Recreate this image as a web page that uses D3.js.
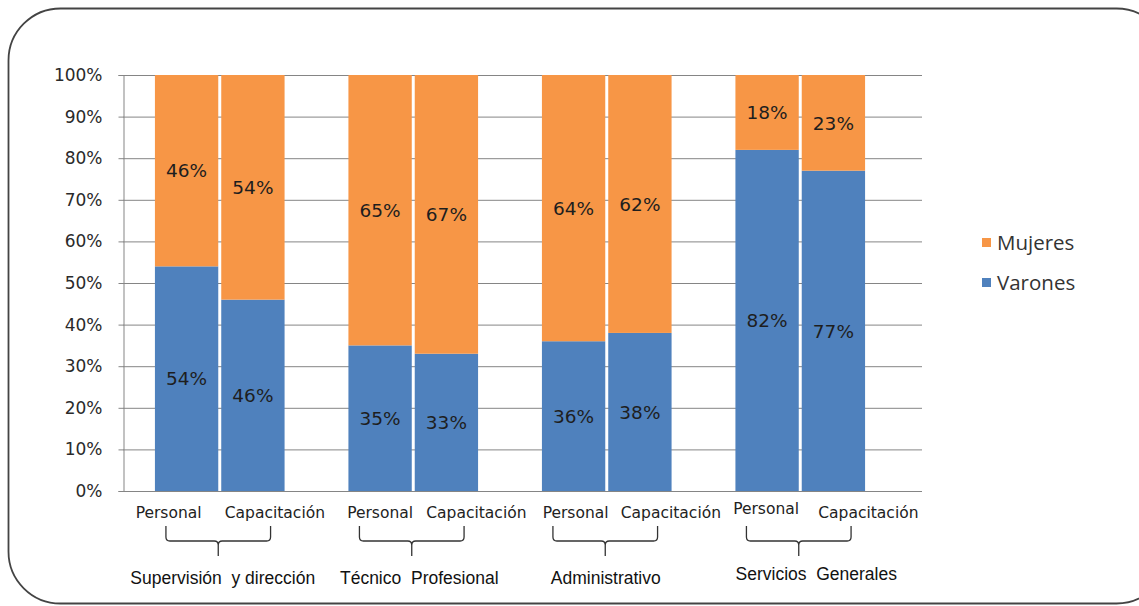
<!DOCTYPE html>
<html>
<head>
<meta charset="utf-8">
<script src="https://cdn.jsdelivr.net/npm/d3@7"></script>
<style>
  html, body { margin: 0; padding: 0; background: #fff; }
  svg { display: block; }
</style>
</head>
<body>
<svg id="chart" width="1139" height="606"></svg>
<script>
// Groups of staff and the two measures shown for each
const groups = ["Supervisión  y dirección", "Técnico  Profesional", "Administrativo", "Servicios  Generales"];
const measures = ["Personal", "Capacitación"];
const seriesNames = ["Varones", "Mujeres"];
// Percentages per group, in measure order
const varones = [[54, 46], [35, 33], [36, 38], [82, 77]];
const mujeres = [[46, 54], [65, 67], [64, 62], [18, 23]];
const yTicks = [0, 10, 20, 30, 40, 50, 60, 70, 80, 90, 100];

const colors = { Varones: "#4F81BD", Mujeres: "#F79646" };

// Label nudges (px) relative to the bar / group centre
const labelShift = {
  Personal: [-18, 0, 2, -1],
  "Capacitación": [22, 30, 31, 35],
  group: [3, 6, -1, 16],
  groupY: [0, 0, 0, -4]
};

const svg = d3.select("#chart");

// Rounded frame around the chart
svg.append("rect")
  .attr("x", 8.5).attr("y", 8.5)
  .attr("width", 1160).attr("height", 595)
  .attr("rx", 52).attr("ry", 52)
  .attr("fill", "none").attr("stroke", "#444").attr("stroke-width", 1.8);

const plot = { left: 123, right: 922, top: 75, bottom: 491 };

const y = d3.scaleLinear().domain([0, 100]).range([plot.bottom, plot.top]);
const x0 = d3.scaleBand().domain(groups).range([123, 897]).paddingInner(0.33).paddingOuter(0.165);
const x1 = d3.scaleBand().domain(measures).range([0, x0.bandwidth()]).paddingInner(0.045);

// Gridlines
svg.append("g").selectAll("line").data(yTicks).join("line")
  .attr("x1", plot.left).attr("x2", plot.right)
  .attr("y1", d => y(d) + 0.5).attr("y2", d => y(d) + 0.5)
  .attr("stroke", "#858585").attr("stroke-width", 1);

// Y axis
const yAxis = svg.append("g")
  .attr("transform", `translate(${plot.left + 0.5},0)`)
  .call(d3.axisLeft(y).tickValues(yTicks).tickFormat(d => d + "%").tickSize(5).tickPadding(16));
yAxis.select(".domain").attr("stroke", "#858585");
yAxis.selectAll(".tick line").attr("stroke", "#858585");
yAxis.selectAll(".tick text")
  .attr("font-family", "DejaVu Sans, Verdana, sans-serif")
  .attr("font-size", 17).attr("fill", "#2a2a2a");

// Stacked data
const rows = [];
groups.forEach((g, gi) => {
  measures.forEach((m, mi) => {
    rows.push({ group: g, gi, measure: m, Varones: varones[gi][mi], Mujeres: mujeres[gi][mi] });
  });
});
const stacked = d3.stack().keys(seriesNames)(rows);

const bars = svg.append("g");
stacked.forEach(layer => {
  bars.append("g").selectAll("rect").data(layer).join("rect")
    .attr("x", d => x0(d.data.group) + x1(d.data.measure))
    .attr("width", x1.bandwidth())
    .attr("y", d => y(d[1]))
    .attr("height", d => y(d[0]) - y(d[1]))
    .attr("fill", colors[layer.key]);
});

// Value labels centred in each segment
stacked.forEach(layer => {
  bars.append("g").selectAll("text").data(layer).join("text")
    .attr("x", d => x0(d.data.group) + x1(d.data.measure) + x1.bandwidth() / 2)
    .attr("y", d => (y(d[0]) + y(d[1])) / 2)
    .attr("dy", "0.36em")
    .attr("text-anchor", "middle")
    .attr("font-family", "DejaVu Sans, Verdana, sans-serif")
    .attr("font-size", 18.5).attr("fill", "#1e1e1e")
    .text(d => (d[1] - d[0]) + "%");
});

// Category labels under the bars
const cats = svg.append("g");
rows.forEach(r => {
  cats.append("text")
    .attr("x", x0(r.group) + x1(r.measure) + x1.bandwidth() / 2 + labelShift[r.measure][r.gi])
    .attr("y", r.gi === 3 && r.measure === "Personal" ? 514 : 518)
    .attr("text-anchor", "middle")
    .attr("font-family", "DejaVu Sans, Verdana, sans-serif")
    .attr("font-size", 15.5).attr("fill", "#222")
    .text(r.measure);
});

// Braces joining the two measures of each group
const braces = svg.append("g").attr("fill", "none").attr("stroke", "#333").attr("stroke-width", 1.3);
groups.forEach((g, gi) => {
  const gx = x0(g);
  const l = gx + 11, r = gx + x0.bandwidth() - 14, c = (l + r) / 2;
  braces.append("path").attr("d",
    `M${l},526 L${l},537 Q${l},541 ${l + 4},541 L${c - 4},541 Q${c},541 ${c},545 L${c},556 ` +
    `M${c},545 Q${c},541 ${c + 4},541 L${r - 4},541 Q${r},541 ${r},537 L${r},526`);
});

// Group labels
svg.append("g").selectAll("text").data(groups).join("text")
  .attr("x", (g, i) => x0(g) + x0.bandwidth() / 2 + labelShift.group[i])
  .attr("y", (g, i) => 584 + labelShift.groupY[i])
  .attr("text-anchor", "middle")
  .attr("font-family", "Liberation Sans, Arial, sans-serif")
  .attr("font-size", 17.5).attr("fill", "#111")
  .style("white-space", "pre")
  .text(g => g);

// Legend
const legend = svg.append("g").attr("transform", "translate(982,243)");
["Mujeres", "Varones"].forEach((k, i) => {
  const row = legend.append("g").attr("transform", `translate(0,${i * 40})`);
  row.append("rect").attr("x", 0).attr("y", -5).attr("width", 9).attr("height", 9).attr("fill", colors[k]);
  row.append("text").attr("x", 15).attr("y", 0).attr("dy", "0.36em")
    .attr("font-family", "Open Sans, sans-serif").attr("font-size", 20.5).attr("fill", "#333")
    .text(k);
});
</script>
</body>
</html>
